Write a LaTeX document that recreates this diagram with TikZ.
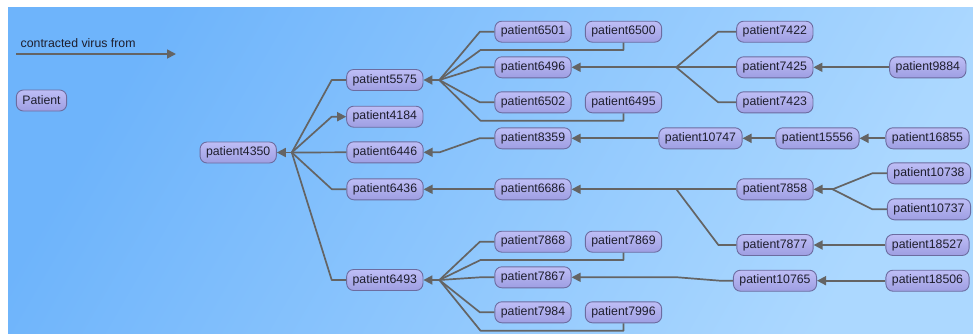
\documentclass[tikz,border=0pt]{standalone}
\usepackage{fontspec}
\setmainfont{Liberation Sans}
\usetikzlibrary{arrows.meta,calc}
\definecolor{bgA}{RGB}{110,180,251}
\definecolor{bgB}{RGB}{172,216,255}
\definecolor{ndTop}{RGB}{190,190,246}
\definecolor{ndBot}{RGB}{158,158,226}
\definecolor{ndLine}{RGB}{108,108,160}
\definecolor{edgec}{RGB}{100,100,100}
\definecolor{txt}{RGB}{30,30,45}
\begin{document}
\begin{tikzpicture}[x=1pt,y=-1pt,
  pnode/.style={draw=ndLine, line width=0.9pt, rounded corners=7pt, top color=ndTop, bottom color=ndBot,
    minimum height=21pt, inner xsep=6pt, inner ysep=0pt, text=txt, font=\fontsize{12.3}{14}\selectfont},
  link/.style={draw=edgec, line width=1.7pt, line join=round},
  arr/.style={link, -{Triangle[length=9pt,width=9pt]}}
]
\fill[white] (0,0) rectangle (973,333);
\useasboundingbox (0,0) rectangle (973,333);
\shade[top color=bgA, bottom color=bgB, shading angle=60] (8,7) rectangle (973,333);

% legend
\node[anchor=west, inner sep=0pt, text=txt, font=\fontsize{12.3}{14}\selectfont] (legtxt) at (20.5,43.5) {contracted virus from};
\coordinate (la) at (16,54);
\coordinate (lb) at (176,54);
\draw[arr] (la) -- (lb);
\node[pnode] (legnode) at (41.5,100.5) {Patient};

% nodes
\node[pnode] (p4350) at (238.2,152.5) {patient4350};
\node[pnode] (p5575) at (384.8,80) {patient5575};
\node[pnode] (p4184) at (384.8,116.7) {patient4184};
\node[pnode] (p6446) at (385,152.3) {patient6446};
\node[pnode] (p6436) at (385,189.3) {patient6436};
\node[pnode] (p6493) at (384.8,280) {patient6493};

\node[pnode] (p6501) at (533,31.7) {patient6501};
\node[pnode] (p6500) at (623.5,31.7) {patient6500};
\node[pnode] (p6496) at (533,67.3) {patient6496};
\node[pnode] (p6502) at (533,102.3) {patient6502};
\node[pnode] (p6495) at (623.5,102.3) {patient6495};
\node[pnode] (p8359) at (533,138.3) {patient8359};
\node[pnode] (p6686) at (533,189.3) {patient6686};
\node[pnode] (p7868) at (533,241.7) {patient7868};
\node[pnode] (p7869) at (623.5,241.7) {patient7869};
\node[pnode] (p7867) at (533,277.3) {patient7867};
\node[pnode] (p7984) at (533,312.3) {patient7984};
\node[pnode] (p7996) at (623.5,312.3) {patient7996};

\node[pnode] (p7422) at (774.8,31.7) {patient7422};
\node[pnode] (p7425) at (774.8,67.3) {patient7425};
\node[pnode] (p7423) at (774.8,102.3) {patient7423};
\node[pnode] (p9884) at (927.8,67.3) {patient9884};
\node[pnode] (p10747) at (700.5,138.3) {patient10747};
\node[pnode] (p15556) at (817.5,138.3) {patient15556};
\node[pnode] (p16855) at (927.5,138.3) {patient16855};
\node[pnode] (p7858) at (775,189.3) {patient7858};
\node[pnode] (p10738) at (929,173.3) {patient10738};
\node[pnode] (p10737) at (929,209.3) {patient10737};
\node[pnode] (p7877) at (775,245) {patient7877};
\node[pnode] (p18527) at (927.5,245) {patient18527};
\node[pnode] (p10765) at (775,280.7) {patient10765};
\node[pnode] (p18506) at (927.5,280.7) {patient18506};

% fan points
\coordinate (f4350) at ($(p4350.east)+(15,0)$);
\coordinate (f5575) at ($(p5575.east)+(16,0)$);
\coordinate (f6493) at ($(p6493.east)+(16,0)$);
\coordinate (f6496) at ($(p7425.west)+(-60,0)$);
\coordinate (f6686) at ($(p7858.west)+(-60,0)$);
\coordinate (f7858) at ($(p7858.east)+(19,0)$);

% patient4350 tree
\draw[arr] (f4350) -- (p4350.east);
\draw[link] (f4350) -- ($(p5575.west)+(-14.5,0)$) -- (p5575.west);
\draw[arr] (f4350) -- ($(p4184.west)+(-14.5,0)$) -- (p4184.west);
\draw[link] (f4350) -- (p6446.west);
\draw[link] (f4350) -- ($(p6436.west)+(-14.5,0)$) -- (p6436.west);
\draw[link] (f4350) -- ($(p6493.west)+(-14.5,0)$) -- (p6493.west);

% patient5575 tree
\draw[arr] (f5575) -- (p5575.east);
\draw[link] (f5575) -- ($(p6501.west)+(-14.5,0)$) -- (p6501.west);
\draw[link] (f5575) -- (480.5,50) -| (p6500.south);
\draw[link] (f5575) -- ($(p6496.west)+(-14.5,0)$) -- (p6496.west);
\draw[link] (f5575) -- ($(p6502.west)+(-14.5,0)$) -- (p6502.west);
\draw[link] (f5575) -- (480.5,120.7) -| (p6495.south);

% patient6496 tree
\draw[arr] (f6496) -- (p6496.east);
\draw[link] (f6496) -- ($(p7422.west)+(-18,0)$) -- (p7422.west);
\draw[link] (f6496) -- (p7425.west);
\draw[link] (f6496) -- ($(p7423.west)+(-18,0)$) -- (p7423.west);
\draw[arr] (p9884.west) -- (p7425.east);

% patient6446 chain
\draw[arr] (p8359.west) -- ++(-15,0) -- ($(p6446.east)+(16,0)$) -- (p6446.east);
\draw[arr] (p10747.west) -- (p8359.east);
\draw[arr] (p15556.west) -- (p10747.east);
\draw[arr] (p16855.west) -- (p15556.east);

% patient6436 chain
\draw[arr] (p6686.west) -- (p6436.east);
\draw[arr] (f6686) -- (p6686.east);
\draw[link] (f6686) -- (p7858.west);
\draw[link] (f6686) -- ($(p7877.west)+(-18,0)$) -- (p7877.west);
\draw[arr] (f7858) -- (p7858.east);
\draw[link] (f7858) -- ($(p10738.west)+(-14.7,0)$) -- (p10738.west);
\draw[link] (f7858) -- ($(p10737.west)+(-14.7,0)$) -- (p10737.west);
\draw[arr] (p18527.west) -- (p7877.east);

% patient6493 tree
\draw[arr] (f6493) -- (p6493.east);
\draw[link] (f6493) -- ($(p7868.west)+(-14.5,0)$) -- (p7868.west);
\draw[link] (f6493) -- (480.5,260) -| (p7869.south);
\draw[link] (f6493) -- ($(p7867.west)+(-14.5,0)$) -- (p7867.west);
\draw[link] (f6493) -- ($(p7984.west)+(-14.5,0)$) -- (p7984.west);
\draw[link] (f6493) -- (480.5,330.7) -| (p7996.south);
\draw[arr] (p10765.west) -- ++(-13,0) -- ($(p7867.east)+(106,0)$) -- (p7867.east);
\draw[arr] (p18506.west) -- (p10765.east);
\end{tikzpicture}
\end{document}
